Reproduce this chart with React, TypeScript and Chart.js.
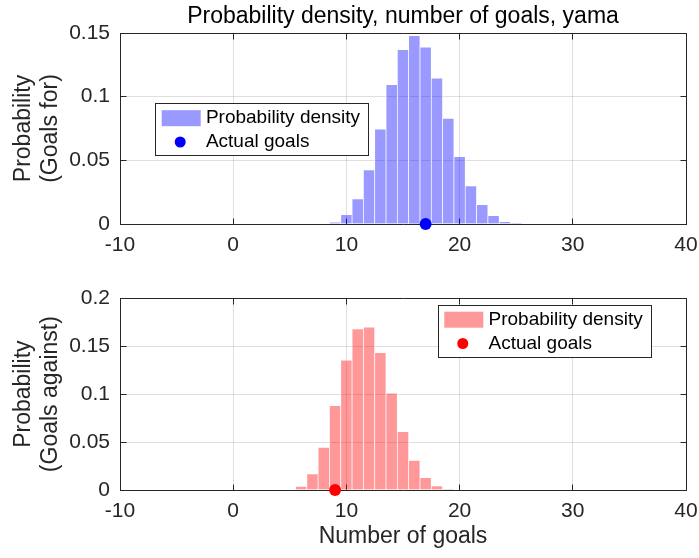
import React, { useEffect, useRef } from 'react';
import { Chart, registerables } from 'chart.js';

Chart.register(...registerables);

// ---------- data ----------
const goalsForBins = [9, 10, 11, 12, 13, 14, 15, 16, 17, 18, 19, 20, 21, 22, 23, 24, 25];
const goalsForProb = [0.0013, 0.0074, 0.0197, 0.0426, 0.0745, 0.1095, 0.137, 0.148, 0.139, 0.1145, 0.083, 0.053, 0.030, 0.0153, 0.0066, 0.0018, 0.0005];
const goalsAgainstBins = [6, 7, 8, 9, 10, 11, 12, 13, 14, 15, 16, 17, 18, 19];
const goalsAgainstProb = [0.0039, 0.0168, 0.0445, 0.088, 0.1356, 0.168, 0.170, 0.1433, 0.101, 0.061, 0.0308, 0.013, 0.0042, 0.0007];
const actualGoalsFor = 17;
const actualGoalsAgainst = 9;
const xTicks = [-10, 0, 10, 20, 30, 40];
const yTicksFor = [0, 0.05, 0.1, 0.15];
const yTicksAgainst = [0, 0.05, 0.1, 0.15, 0.2];
const titleText = 'Probability density, number of goals, yama';
const yTitleFor = ['Probability', '(Goals for)'];
const yTitleAgainst = ['Probability', '(Goals against)'];
const xTitleText = 'Number of goals';
const legendLabels = ['Probability density', 'Actual goals'];

// ---------- styles ----------
const FONT = '"Liberation Sans", Arial, Helvetica, sans-serif';
const AXIS = '#262626';
const GRID = 'rgba(38,38,38,0.15)';
Chart.defaults.font.family = FONT;

const fmt = (v: any) => String(+Number(v).toFixed(4));
const al = (p: number) => Math.round(p - 0.5) + 0.5;

const framePlugin = {
  id: 'frame',
  beforeDatasetsDraw(chart: any) {
    const { ctx, chartArea } = chart;
    const { left, right, top, bottom } = chartArea;
    const xs = chart.scales.x;
    const ys = chart.scales.y;
    ctx.save();
    ctx.strokeStyle = AXIS;
    ctx.lineWidth = 1;
    ctx.beginPath();
    ctx.moveTo(al(left), al(top));
    ctx.lineTo(al(right), al(top));
    ctx.lineTo(al(right), al(bottom));
    const tl = 6;
    xs.ticks.forEach((t: any) => {
      const px = al(xs.getPixelForValue(t.value));
      ctx.moveTo(px, al(bottom));
      ctx.lineTo(px, al(bottom) - tl);
      ctx.moveTo(px, al(top));
      ctx.lineTo(px, al(top) + tl);
    });
    ys.ticks.forEach((t: any) => {
      const py = al(ys.getPixelForValue(t.value));
      ctx.moveTo(al(left), py);
      ctx.lineTo(al(left) + tl, py);
      ctx.moveTo(al(right), py);
      ctx.lineTo(al(right) - tl, py);
    });
    ctx.stroke();
    ctx.restore();
  },
};

function makeLegend(bx: number, by: number, fill: string, dot: string) {
  return {
    id: 'boxLegend',
    afterDatasetsDraw(chart: any) {
      const { ctx } = chart;
      const bw = 212.5;
      const bh = 52;
      ctx.save();
      ctx.fillStyle = '#ffffff';
      ctx.fillRect(bx, by, bw, bh);
      ctx.strokeStyle = AXIS;
      ctx.lineWidth = 1;
      ctx.strokeRect(al(bx), al(by), Math.round(bw), Math.round(bh));
      ctx.fillStyle = fill;
      ctx.fillRect(bx + 6, by + 6.7, 39, 16);
      ctx.fillStyle = dot;
      ctx.beginPath();
      ctx.arc(bx + 24.5, by + 38.5, 5.5, 0, Math.PI * 2);
      ctx.fill();
      ctx.fillStyle = '#000000';
      ctx.font = `19px ${FONT}`;
      ctx.textAlign = 'left';
      ctx.textBaseline = 'middle';
      ctx.fillText(legendLabels[0], bx + 50.2, by + 14.3);
      ctx.fillText(legendLabels[1], bx + 50.2, by + 38.5);
      ctx.restore();
    },
  };
}

interface Cfg {
  bins: number[];
  probs: number[];
  actual: number;
  fill: string;
  dot: string;
  yMax: number;
  yTicks: number[];
  yTitle: string[];
  title?: string;
  xTitle?: string;
  padTop: number;
  xAxisHeight: number;
  legendX: number;
  legendY: number;
}

function makeConfig(c: Cfg): any {
  return {
    type: 'bar',
    data: {
      datasets: [
        {
          type: 'scatter',
          data: [{ x: c.actual, y: 0 }],
          pointRadius: 6,
          pointHoverRadius: 6,
          backgroundColor: c.dot,
          borderWidth: 0,
          clip: false,
          order: 0,
        },
        {
          type: 'bar',
          data: c.bins.map((b, i) => ({ x: b, y: c.probs[i] })),
          backgroundColor: c.fill,
          borderColor: 'rgba(255,255,255,0.9)',
          borderWidth: 0.7,
          barPercentage: 1,
          categoryPercentage: 1,
          order: 1,
        },
      ],
    },
    options: {
      responsive: false,
      maintainAspectRatio: false,
      animation: false,
      devicePixelRatio: 1,
      events: [],
      layout: { padding: { top: c.padTop, right: 13, bottom: 0, left: 0 } },
      plugins: {
        legend: { display: false },
        tooltip: { enabled: false },
        title: {
          display: !!c.title,
          text: c.title || '',
          color: '#000000',
          font: { size: 23, weight: 'normal', lineHeight: 1.2 },
          padding: { top: 3, bottom: 2.4 },
          fullSize: false,
        },
      },
      scales: {
        x: {
          type: 'linear',
          min: -10,
          max: 40,
          offset: false,
          afterBuildTicks: (s: any) => {
            s.ticks = xTicks.map((v) => ({ value: v }));
          },
          afterFit: (s: any) => {
            s.height = c.xAxisHeight;
            s.paddingLeft = 0;
            s.paddingRight = 0;
          },
          grid: { color: GRID, drawTicks: false, offset: false },
          border: { color: AXIS, width: 1 },
          ticks: {
            padding: 9,
            color: AXIS,
            font: { size: 21 },
            maxRotation: 0,
            autoSkip: false,
            callback: (v: any) => fmt(v),
          },
          title: {
            display: !!c.xTitle,
            text: c.xTitle || '',
            color: AXIS,
            font: { size: 23, lineHeight: 1.17 },
            padding: { top: 0, bottom: 7.5 },
          },
        },
        y: {
          type: 'linear',
          min: 0,
          max: c.yMax,
          afterBuildTicks: (s: any) => {
            s.ticks = c.yTicks.map((v) => ({ value: v }));
          },
          afterFit: (s: any) => {
            s.width = 120;
            s.paddingTop = 0;
            s.paddingBottom = 0;
          },
          grid: { color: GRID, drawTicks: false },
          border: { color: AXIS, width: 1 },
          ticks: {
            padding: 10,
            color: AXIS,
            font: { size: 21 },
            autoSkip: false,
            callback: (v: any) => fmt(v),
          },
          title: {
            display: true,
            text: c.yTitle,
            color: AXIS,
            font: { size: 23, lineHeight: 1.17 },
            padding: { top: 10.2, bottom: 0 },
          },
        },
      },
    },
    plugins: [framePlugin, makeLegend(c.legendX, c.legendY, c.fill, c.dot)],
  };
}

export default function App() {
  const ref1 = useRef<HTMLCanvasElement>(null);
  const ref2 = useRef<HTMLCanvasElement>(null);

  useEffect(() => {
    const c1 = new Chart(
      ref1.current!,
      makeConfig({
        bins: goalsForBins,
        probs: goalsForProb,
        actual: actualGoalsFor,
        fill: 'rgba(0,0,255,0.4)',
        dot: '#0000ff',
        yMax: 0.15,
        yTicks: yTicksFor,
        yTitle: yTitleFor,
        title: titleText,
        padTop: 0,
        xAxisHeight: 46,
        legendX: 155.7,
        legendY: 103.5,
      })
    );
    const c2 = new Chart(
      ref2.current!,
      makeConfig({
        bins: goalsAgainstBins,
        probs: goalsAgainstProb,
        actual: actualGoalsAgainst,
        fill: 'rgba(255,0,0,0.4)',
        dot: '#ff0000',
        yMax: 0.2,
        yTicks: yTicksAgainst,
        yTitle: yTitleAgainst,
        xTitle: xTitleText,
        padTop: 28.3,
        xAxisHeight: 68,
        legendX: 438.3,
        legendY: 35,
      })
    );
    return () => {
      c1.destroy();
      c2.destroy();
    };
  }, []);

  return (
    <div style={{ position: 'fixed', left: 0, top: 0, width: 699, height: 558, background: '#ffffff' }}>
      <canvas
        ref={ref1}
        width={699}
        height={270}
        style={{ position: 'absolute', left: 0, top: 0, width: 699, height: 270 }}
      />
      <canvas
        ref={ref2}
        width={699}
        height={288}
        style={{ position: 'absolute', left: 0, top: 270, width: 699, height: 288 }}
      />
    </div>
  );
}
